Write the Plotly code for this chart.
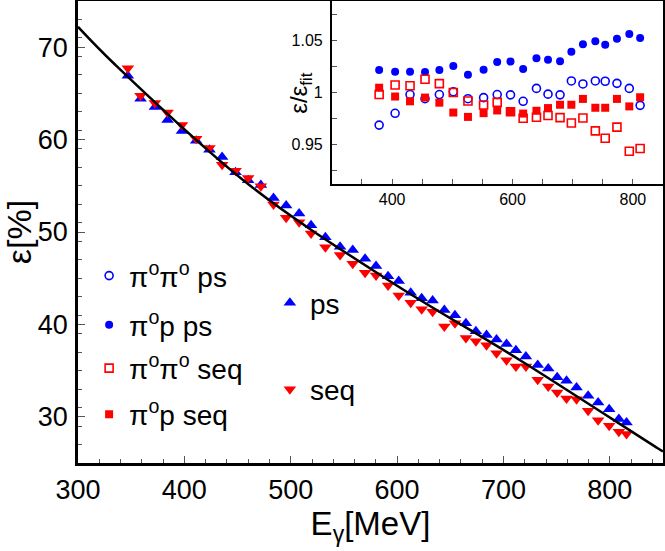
import plotly.graph_objects as go

# ---------------- data ----------------
E_main = [346.9, 358.8, 372.3, 384.2, 397.7, 411.1, 423.6, 435.5, 448.1, 460.0, 471.9,
          483.8, 495.7, 507.9, 519.1, 532.6, 546.4, 558.3, 569.9, 580.2, 591.5, 601.5,
          612.8, 623.1, 633.4, 644.4, 654.4, 664.7, 674.1, 684.1, 693.5, 702.9, 711.7,
          721.1, 732.2, 742.1, 750.5, 759.3, 768.7, 779.6, 789.0, 799.4, 808.5, 815.7]

eff_ps = [66.90, 64.42, 63.52, 62.11, 60.93, 59.88, 58.91, 58.12, 56.46, 55.60, 55.10,
          53.69, 52.86, 52.00, 50.74, 49.44, 48.40, 48.04, 47.10, 46.31, 45.20, 44.70,
          43.43, 42.82, 42.60, 41.56, 40.98, 40.12, 39.25, 38.86, 38.36, 37.89, 37.20,
          36.52, 35.60, 35.22, 34.29, 33.89, 33.17, 32.27, 31.55, 30.83, 29.75, 29.39]

eff_seq = [67.73, 64.74, 63.95, 62.94, 61.57, 60.10, 59.09, 57.29, 56.64, 55.85, 54.95,
           52.97, 51.53, 51.06, 49.84, 48.36, 47.50, 46.56, 45.59, 45.30, 44.22, 43.14,
           42.35, 41.63, 41.38, 39.76, 40.12, 38.53, 38.18, 37.74, 36.88, 36.12, 35.44,
           35.44, 34.00, 33.28, 32.63, 31.99, 31.91, 30.65, 29.64, 29.03, 28.38, 28.13]

E_fit = [300, 335, 462, 593, 716, 845, 850]
eff_fit = [72.2, 68.1, 55.0, 44.7, 36.1, 26.6, 26.25]

E_inset = [378.5, 405.0, 429.8, 454.7, 478.5, 501.7, 526.0, 552.0, 574.6, 596.7, 617.7,
           639.8, 659.0, 679.0, 697.8, 717.0, 737.6, 754.0, 773.5, 794.0, 812.0]

ratio_pi0p_ps = [1.0216, 1.0199, 1.0199, 1.0196, 1.0216, 1.0255, 1.0170, 1.0219, 1.0294, 1.0297, 1.0225,
                 1.0330, 1.0314, 1.0301, 1.0392, 1.0464, 1.0493, 1.0458, 1.0516, 1.0562, 1.0523]
ratio_pi0pi0_ps = [0.9686, 0.9800, 0.9980, 0.9940, 0.9980, 1.0007, 0.9940, 0.9950, 0.9980, 0.9977, 0.9915,
                   1.0039, 0.9984, 0.9977, 1.0111, 1.0082, 1.0111, 1.0108, 1.0088, 1.0039, 0.9876]
ratio_pi0p_seq = [1.0046, 0.9961, 0.9915, 0.9951, 0.9902, 0.9807, 0.9765, 0.9801, 0.9827, 0.9817, 0.9797,
                  0.9824, 0.9850, 0.9882, 0.9882, 0.9938, 0.9853, 0.9853, 0.9938, 0.9866, 0.9954]
ratio_pi0pi0_seq = [0.9980, 1.0072, 1.0065, 1.0127, 1.0085, 1.0000, 0.9918, 0.9879, 0.9905, 0.9814, 0.9752,
                    0.9761, 0.9778, 0.9758, 0.9706, 0.9755, 0.9631, 0.9559, 0.9667, 0.9435, 0.9461]

ref_dotted = [0.95, 1.05]
ref_dashed = [1.0]

main_xticks = [300, 400, 500, 600, 700, 800]
main_yticks = [30, 40, 50, 60, 70]
inset_xticks = [400, 600, 800]
inset_yticks = [0.95, 1.0, 1.05]
inset_yticklabels = ["0.95", "1", "1.05"]

BLUE = "#0000ff"
RED = "#ff0000"
FONT = "Liberation Sans"

fig = go.Figure()

# main plot
fig.add_trace(go.Scatter(x=E_main, y=eff_ps, mode="markers", name="ps",
                         marker=dict(symbol="triangle-up", size=11, color=BLUE),
                         legend="legend5", xaxis="x", yaxis="y"))
fig.add_trace(go.Scatter(x=E_main, y=eff_seq, mode="markers", name="seq",
                         marker=dict(symbol="triangle-down", size=11, color=RED),
                         legend="legend6", xaxis="x", yaxis="y"))
fig.add_trace(go.Scatter(x=E_fit, y=eff_fit, mode="lines", showlegend=False,
                         line=dict(color="black", width=2.5, shape="spline"),
                         xaxis="x", yaxis="y"))

# inset
fig.add_trace(go.Scatter(x=E_inset, y=ratio_pi0pi0_ps, mode="markers",
                         name="π<sup>o</sup>π<sup>o</sup> ps",
                         marker=dict(symbol="circle-open", size=8, color=BLUE, line=dict(width=1.6)),
                         legend="legend", xaxis="x2", yaxis="y2"))
fig.add_trace(go.Scatter(x=E_inset, y=ratio_pi0p_ps, mode="markers",
                         name="π<sup>o</sup>p ps",
                         marker=dict(symbol="circle", size=8, color=BLUE),
                         legend="legend2", xaxis="x2", yaxis="y2"))
fig.add_trace(go.Scatter(x=E_inset, y=ratio_pi0pi0_seq, mode="markers",
                         name="π<sup>o</sup>π<sup>o</sup> seq",
                         marker=dict(symbol="square-open", size=8, color=RED, line=dict(width=1.6)),
                         legend="legend3", xaxis="x2", yaxis="y2"))
fig.add_trace(go.Scatter(x=E_inset, y=ratio_pi0p_seq, mode="markers",
                         name="π<sup>o</sup>p seq",
                         marker=dict(symbol="square", size=8, color=RED),
                         legend="legend4", xaxis="x2", yaxis="y2"))

shapes = []
for v in ref_dotted:
    shapes.append(dict(type="line", xref="x2 domain", yref="y2", x0=0, x1=1, y0=v, y1=v,
                       line=dict(color="black", width=2.5, dash="dot"), layer="below"))
for v in ref_dashed:
    shapes.append(dict(type="line", xref="x2 domain", yref="y2", x0=0, x1=1, y0=v, y1=v,
                       line=dict(color="black", width=1.5, dash="7px,4px"), layer="below"))


def leg(x, y):
    return dict(x=x, y=y, xanchor="left", yanchor="middle", itemwidth=30,
                bgcolor="rgba(0,0,0,0)", borderwidth=0,
                font=dict(family=FONT, size=28, color="black"))


axis_common = dict(showline=True, linecolor="black", mirror=True, ticks="inside",
                   tickcolor="#555", showgrid=False, zeroline=False, automargin=False)

fig.update_layout(
    width=665, height=551,
    margin=dict(l=78, r=2, t=1, b=88),
    paper_bgcolor="white", plot_bgcolor="white",
    font=dict(family=FONT, color="black"),
    shapes=shapes,
    xaxis=dict(domain=[0, 1], range=[300, 850], tickvals=main_xticks, ticklen=7, tickwidth=1,
               linewidth=2.5, tickfont=dict(size=27), ticklabelstandoff=1,
               minor=dict(dtick=20, tick0=300, ticklen=4, ticks="inside", tickcolor="#555"),
               title=dict(text="E<sub>γ</sub>[MeV]", font=dict(size=33), standoff=2),
               anchor="y", **axis_common),
    yaxis=dict(domain=[0, 1], range=[25, 75], tickvals=main_yticks, ticklen=7, tickwidth=1,
               linewidth=2.5, tickfont=dict(size=27), ticklabelstandoff=2,
               minor=dict(dtick=2, tick0=25, ticklen=4, ticks="inside", tickcolor="#555"),
               title=dict(text="ε[%]", font=dict(size=34), standoff=8),
               anchor="x", **axis_common),
    xaxis2=dict(domain=[0.434, 1], range=[300, 850], tickvals=inset_xticks, ticklen=5, tickwidth=1,
                linewidth=2, tickfont=dict(size=16), ticklabelstandoff=0,
                minor=dict(dtick=50, tick0=300, ticklen=5, ticks="inside", tickcolor="#555"),
                anchor="y2", **axis_common),
    yaxis2=dict(domain=[0.604, 1], range=[0.912, 1.088], tickvals=inset_yticks,
                ticktext=inset_yticklabels, ticklen=5, tickwidth=1,
                linewidth=2, tickfont=dict(size=16), ticklabelstandoff=4,
                minor=dict(dtick=0.025, tick0=0.9, ticklen=5, ticks="inside", tickcolor="#555"),
                anchor="x2", **axis_common),
    annotations=[dict(text="ε/ε<sub>fit</sub>", xref="paper", yref="paper", x=0.381, y=0.801,
                      xanchor="center", yanchor="middle", textangle=-90, showarrow=False,
                      font=dict(size=24, family=FONT, color="black"))],
    legend=leg(0.019, 0.405),
    legend2=leg(0.019, 0.2987),
    legend3=leg(0.019, 0.2046),
    legend4=leg(0.019, 0.1049),
    legend5=leg(0.328, 0.3463),
    legend6=leg(0.328, 0.1589),
)

fig.write_html("out.html", config={"displayModeBar": False},
               post_script="document.body.style.margin='0';document.body.style.overflow='hidden';")
